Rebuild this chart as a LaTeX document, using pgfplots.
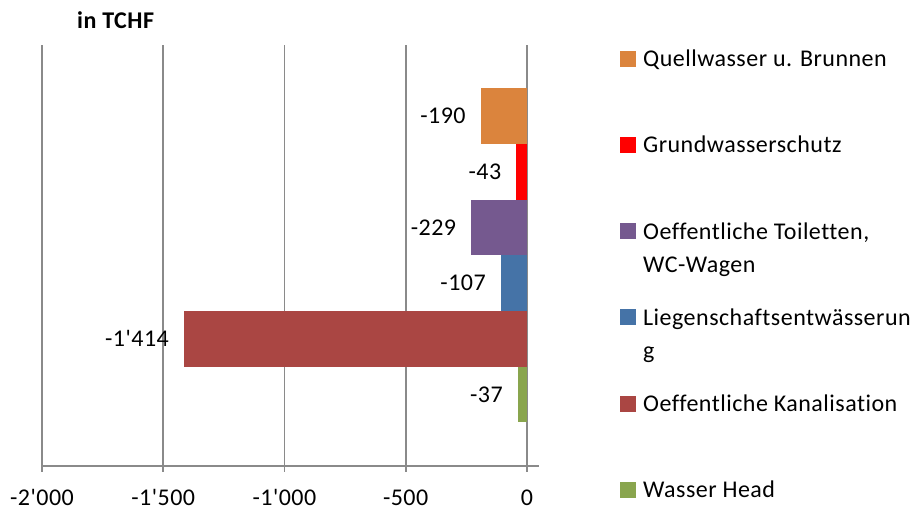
\documentclass[border=0pt]{standalone}
\usepackage{fontspec}
\setmainfont{Carlito}[Ligatures={TeXOff,NoCommon}, LetterSpace=2]
\usepackage{pgfplots}
\pgfplotsset{compat=1.18}
\definecolor{cOrange}{HTML}{DB843D}
\definecolor{cRed}{HTML}{FF0000}
\definecolor{cPurple}{HTML}{75598F}
\definecolor{cBlue}{HTML}{4573A7}
\definecolor{cDarkRed}{HTML}{AA4643}
\definecolor{cGreen}{HTML}{89A54E}
\definecolor{gridgray}{HTML}{8A8A8A}
\begin{document}
\fontsize{24}{29}\selectfont
\begin{tikzpicture}[x=1pt,y=1pt]
\useasboundingbox (0,0) rectangle (919,511);
\begin{axis}[
  at={(42pt,45pt)}, anchor=south west,
  scale only axis, width=497pt, height=421pt,
  xmin=-2000, xmax=50, ymin=-0.286, ymax=7.275,
  xbar, bar width=1, bar shift=0pt,
  axis x line*=bottom, axis y line=none,
  axis line style={gridgray, line width=1.7pt},
  xtick={-2000,-1500,-1000,-500,0}, ytick=\empty,
  xmajorgrids, grid style={gridgray, line width=1.7pt},
  tick align=outside, major tick length=6pt,
  tick style={gridgray, line width=1.7pt},
  /pgf/number format/assume math mode=true,
  /pgf/number format/1000 sep={'},
  xticklabel style={anchor=base, yshift=-34pt, font=\fontsize{24}{29}\selectfont},
  nodes near coords,
  every node near coord/.append style={font=\fontsize{24}{29}\selectfont, text=black, anchor=east, xshift=-7pt},
]
\addplot[draw=none, fill=cOrange] coordinates {(-190,6)};
\addplot[draw=none, fill=cRed] coordinates {(-43,5)};
\addplot[draw=none, fill=cPurple] coordinates {(-229,4)};
\addplot[draw=none, fill=cBlue] coordinates {(-107,3)};
\addplot[draw=none, fill=cDarkRed] coordinates {(-1414,2)};
\addplot[draw=none, fill=cGreen] coordinates {(-37,1)};
\end{axis}
\node[anchor=base west, inner sep=0, font=\bfseries] at (77,482.7) {in TCHF};
% legend
\fill[cOrange] (620,444.2) rectangle ++(16,16);
\node[anchor=base west, inner sep=0] at (643,444.2) {Quellwasser u. Brunnen};
\fill[cRed] (620,358) rectangle ++(16,16);
\node[anchor=base west, inner sep=0] at (643,358) {Grundwasserschutz};
\fill[cPurple] (620,271.8) rectangle ++(16,16);
\node[anchor=base west, inner sep=0] at (643,271.8) {Oeffentliche Toiletten,};
\node[anchor=base west, inner sep=0] at (643,238.4) {WC-Wagen};
\fill[cBlue] (620,185.6) rectangle ++(16,16);
\node[anchor=base west, inner sep=0] at (643,185.6) {Liegenschaftsentwässerun};
\node[anchor=base west, inner sep=0] at (643,152.2) {g};
\fill[cDarkRed] (620,99.4) rectangle ++(16,16);
\node[anchor=base west, inner sep=0] at (643,99.4) {Oeffentliche Kanalisation};
\fill[cGreen] (620,13.2) rectangle ++(16,16);
\node[anchor=base west, inner sep=0] at (643,13.2) {Wasser Head};
\end{tikzpicture}
\end{document}
